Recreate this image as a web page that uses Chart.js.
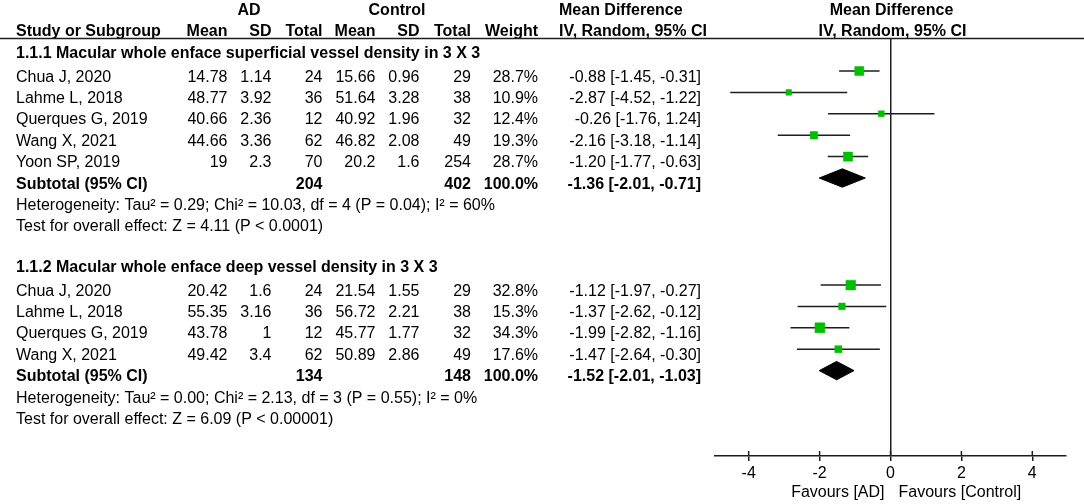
<!doctype html>
<html>
<head>
<meta charset="utf-8">
<title>Forest plot - macular whole enface vessel density</title>
<script src="https://cdn.jsdelivr.net/npm/chart.js@4.4.1/dist/chart.umd.min.js"></script>
<style>
  html, body { margin: 0; padding: 0; background: #fff; }
</style>
</head>
<body>
<canvas id="forest" width="1084" height="504"></canvas>
<script>
// 1.1.1 superficial vessel density
const title1 = '1.1.1 Macular whole enface superficial vessel density in 3 X 3';
const studies1 = ['Chua J, 2020', 'Lahme L, 2018', 'Querques G, 2019', 'Wang X, 2021', 'Yoon SP, 2019'];
const adMean1 = [14.78, 48.77, 40.66, 44.66, 19];
const adSD1 = [1.14, 3.92, 2.36, 3.36, 2.3];
const adN1 = [24, 36, 12, 62, 70];
const ctMean1 = [15.66, 51.64, 40.92, 46.82, 20.2];
const ctSD1 = [0.96, 3.28, 1.96, 2.08, 1.6];
const ctN1 = [29, 38, 32, 49, 254];
const weight1 = [28.7, 10.9, 12.4, 19.3, 28.7];
const md1 = [-0.88, -2.87, -0.26, -2.16, -1.20];
const lo1 = [-1.45, -4.52, -1.76, -3.18, -1.77];
const hi1 = [-0.31, -1.22, 1.24, -1.14, -0.63];
const het1 = 'Heterogeneity: Tau\u00b2 = 0.29; Chi\u00b2 = 10.03, df = 4 (P = 0.04); I\u00b2 = 60%';
const test1 = 'Test for overall effect: Z = 4.11 (P < 0.0001)';

// 1.1.2 deep vessel density
const title2 = '1.1.2 Macular whole enface deep vessel density in 3 X 3';
const studies2 = ['Chua J, 2020', 'Lahme L, 2018', 'Querques G, 2019', 'Wang X, 2021'];
const adMean2 = [20.42, 55.35, 43.78, 49.42];
const adSD2 = [1.6, 3.16, 1, 3.4];
const adN2 = [24, 36, 12, 62];
const ctMean2 = [21.54, 56.72, 45.77, 50.89];
const ctSD2 = [1.55, 2.21, 1.77, 2.86];
const ctN2 = [29, 38, 32, 49];
const weight2 = [32.8, 15.3, 34.3, 17.6];
const md2 = [-1.12, -1.37, -1.99, -1.47];
const lo2 = [-1.97, -2.62, -2.82, -2.64];
const hi2 = [-0.27, -0.12, -1.16, -0.30];
const het2 = 'Heterogeneity: Tau\u00b2 = 0.00; Chi\u00b2 = 2.13, df = 3 (P = 0.55); I\u00b2 = 0%';
const test2 = 'Test for overall effect: Z = 6.09 (P < 0.00001)';

// subtotals, one per subgroup
const subN_AD = [204, 134];
const subN_CT = [402, 148];
const subWeight = [100.0, 100.0];
const subMd = [-1.36, -1.52];
const subLo = [-2.01, -2.01];
const subHi = [-0.71, -1.03];

const xTicks = [-4, -2, 0, 2, 4];
const colHeads = ['Mean', 'SD', 'Total', 'Mean', 'SD', 'Total', 'Weight'];

// look
const FONT = '"Liberation Sans", Arial, sans-serif';
const SIZE = 16;
const GREEN = '#00bf00';
const INK = '#1e1e1e';
const DIAMOND_H = 0.43;   // half height of the pooled diamond, in rows
const colRight = [227.5, 271.5, 322.5, 375.5, 419.5, 471, 538];
const nameX = 16, mdX = 559, mdRight = 701;

const groups = [
  { title: title1, names: studies1, cols: [adMean1, adSD1, adN1, ctMean1, ctSD1, ctN1],
    w: weight1, md: md1, lo: lo1, hi: hi1, het: het1, test: test1 },
  { title: title2, names: studies2, cols: [adMean2, adSD2, adN2, ctMean2, ctSD2, ctN2],
    w: weight2, md: md2, lo: lo2, hi: hi2, het: het2, test: test2 }
];
// first table row of each subgroup (section title + studies + subtotal + 2 notes + blank)
let nextRow = 0;
groups.forEach(g => { g.row = nextRow; nextRow += g.names.length + 5; });

const ciLines = [], boxes = [], diamonds = [];
groups.forEach((g, k) => {
  g.names.forEach((n, i) => {
    const r = g.row + 1 + i;
    ciLines.push({
      type: 'line', data: [{ x: g.lo[i], y: r }, { x: g.hi[i], y: r }],
      borderColor: INK, borderWidth: 1.5, pointRadius: 0, order: 2
    });
    boxes.push({ x: g.md[i], y: r, w: g.w[i] });
  });
  const r = g.row + 1 + g.names.length;
  diamonds.push({
    type: 'line',
    data: [
      { x: subLo[k], y: r }, { x: subMd[k], y: r - DIAMOND_H },
      { x: subHi[k], y: r }, { x: subMd[k], y: r + DIAMOND_H }, { x: subLo[k], y: r }
    ],
    fill: 'shape', backgroundColor: '#000', borderColor: '#000', borderWidth: 1,
    pointRadius: 0, order: 1
  });
});

const fmt2 = v => v.toFixed(2);
const ciText = (m, l, h) => fmt2(m) + ' [' + fmt2(l) + ', ' + fmt2(h) + ']';

const tablePlugin = {
  id: 'table',
  afterDraw(chart) {
    const ctx = chart.ctx;
    const ys = chart.scales.y, xs = chart.scales.x;
    const zero = xs.getPixelForValue(0);
    const base = r => ys.getPixelForValue(r) + 10.5;
    const txt = (s, x, y, align, bold) => {
      ctx.font = (bold ? 'bold ' : '') + SIZE + 'px ' + FONT;
      ctx.textAlign = align;
      ctx.fillText(s, x, y);
    };
    ctx.save();
    ctx.fillStyle = '#000';
    ctx.textBaseline = 'alphabetic';

    // header
    const h1 = base(-2) - 2.5, h2 = base(-1) - 2.5;
    txt('AD', 249, h1, 'center', true);
    txt('Control', 397, h1, 'center', true);
    txt('Mean Difference', mdX, h1, 'left', true);
    txt('Mean Difference', zero + 1, h1, 'center', true);
    txt('Study or Subgroup', nameX, h2, 'left', true);
    colHeads.forEach((c, i) => txt(c, colRight[i], h2, 'right', true));
    txt('IV, Random, 95% CI', mdX, h2, 'left', true);
    txt('IV, Random, 95% CI', zero + 2, h2, 'center', true);

    ctx.strokeStyle = INK;
    ctx.lineWidth = 1.5;
    ctx.beginPath();
    ctx.moveTo(0, chart.chartArea.top);
    ctx.lineTo(chart.width, chart.chartArea.top);
    ctx.stroke();

    groups.forEach((g, k) => {
      txt(g.title, nameX, base(g.row) - 2, 'left', true);
      g.names.forEach((n, i) => {
        const y = base(g.row + 1 + i);
        txt(n, nameX, y, 'left', false);
        g.cols.forEach((col, c) => txt(String(col[i]), colRight[c], y, 'right', false));
        txt(g.w[i].toFixed(1) + '%', colRight[6], y, 'right', false);
        txt(ciText(g.md[i], g.lo[i], g.hi[i]), mdRight, y, 'right', false);
      });
      const rs = g.row + 1 + g.names.length;
      const ys2 = base(rs);
      txt('Subtotal (95% CI)', nameX, ys2, 'left', true);
      txt(String(subN_AD[k]), colRight[2], ys2, 'right', true);
      txt(String(subN_CT[k]), colRight[5], ys2, 'right', true);
      txt(subWeight[k].toFixed(1) + '%', colRight[6], ys2, 'right', true);
      txt(ciText(subMd[k], subLo[k], subHi[k]), mdRight, ys2, 'right', true);
      txt(g.het, nameX, base(rs + 1), 'left', false);
      txt(g.test, nameX, base(rs + 2), 'left', false);
    });

    // upper half of the axis tick marks
    const axisY = chart.chartArea.bottom;
    ctx.beginPath();
    xTicks.forEach(v => {
      const px = xs.getPixelForValue(v);
      ctx.moveTo(px, axisY - 5);
      ctx.lineTo(px, axisY);
    });
    ctx.stroke();

    txt('Favours [AD]', zero - 6, axisY + 41, 'right', false);
    txt('Favours [Control]', zero + 8, axisY + 41, 'left', false);
    ctx.restore();
  }
};

Chart.defaults.font.family = FONT;
Chart.defaults.font.size = SIZE;
Chart.defaults.color = '#000';

new Chart(document.getElementById('forest').getContext('2d'), {
  type: 'scatter',
  data: {
    datasets: [
      {
        data: boxes,
        pointStyle: 'rect',
        pointRadius: c => 1.7 * Math.sqrt(c.raw.w) / Math.SQRT2,
        pointBackgroundColor: GREEN,
        pointBorderColor: GREEN,
        pointBorderWidth: 0.5,
        order: 0
      },
      ...diamonds,
      ...ciLines
    ]
  },
  options: {
    responsive: false,
    animation: false,
    layout: { padding: { left: 715, right: 18, top: 38.5, bottom: 0 } },
    plugins: { legend: { display: false }, tooltip: { enabled: false } },
    scales: {
      x: {
        type: 'linear',
        min: -4.95,
        max: 4.95,
        afterBuildTicks: s => { s.ticks = xTicks.map(v => ({ value: v })); },
        afterFit: s => { s.height = 48; },
        border: { display: true, color: INK, width: 1.5 },
        grid: {
          drawOnChartArea: true,
          color: c => (c.tick && c.tick.value === 0) ? INK : 'rgba(0,0,0,0)',
          lineWidth: 1.5,
          tickLength: 5,
          tickColor: INK,
          tickWidth: 1.5
        },
        ticks: { color: '#000', padding: 3, callback: v => String(v) }
      },
      y: {
        type: 'linear',
        display: false,
        reverse: true,
        min: -0.52,
        max: 18.99
      }
    }
  },
  plugins: [tablePlugin]
});
</script>
</body>
</html>
